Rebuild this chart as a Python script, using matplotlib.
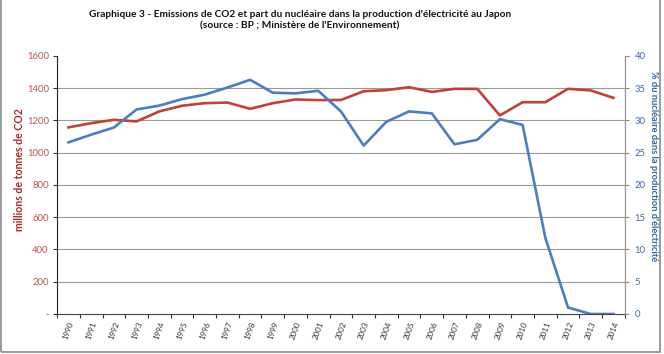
import matplotlib
matplotlib.use("Agg")
import matplotlib.pyplot as plt
import numpy as np
from matplotlib.ticker import FuncFormatter
from matplotlib.patches import Rectangle

# data
years = [str(y) for y in range(1990, 2015)]
co2_mt = [1157, 1183, 1204, 1194, 1256, 1291, 1307, 1311, 1272, 1307,
          1330, 1326, 1327, 1381, 1388, 1406, 1377, 1396, 1396, 1231,
          1313, 1313, 1396, 1386, 1340]
nuclear_pct = [26.6, 27.8, 28.9, 31.7, 32.3, 33.3, 34.0, 35.1, 36.3, 34.3,
               34.2, 34.6, 31.4, 26.1, 29.8, 31.4, 31.1, 26.3, 27.0, 30.2,
               29.3, 11.8, 1.0, 0.0, 0.0]

TITLE = ("Graphique 3 - Emissions de CO2 et part du nucléaire dans la production d'électricité au Japon\n"
         "(source : BP ; Ministère de l'Environnement)")

RED = "#C0403A"
BLUE = "#4A7EC0"

plt.rcParams["font.family"] = ["Lato", "DejaVu Sans"]

fig = plt.figure(figsize=(6.64, 3.54), dpi=100)
ax = fig.add_axes([0.086, 0.113, 0.855, 0.729])
ax2 = ax.twinx()

x = np.arange(len(years))
ax.plot(x, co2_mt, color=RED, lw=1.9, solid_joinstyle="round")
ax2.plot(x, nuclear_pct, color=BLUE, lw=1.9, solid_joinstyle="round")

ax.set_xlim(-0.5, len(years) - 0.5)
ax.set_ylim(0, 1600)
ax2.set_ylim(0, 40)

# left axis
ax.set_yticks(range(0, 1601, 200))
ax.yaxis.set_major_formatter(FuncFormatter(lambda v, p: "-" if v == 0 else "%d" % v))
ax.tick_params(axis="y", colors="#333333", labelcolor="#C0504D", labelsize=6.8,
               direction="out", length=3, width=0.8, pad=3)
ax.grid(axis="y", color="#9A9A9A", lw=0.8)
ax.yaxis.get_gridlines()[-1].set_visible(False)
ax.yaxis.get_gridlines()[0].set_visible(False)
ax.set_ylabel("millions de tonnes de CO2", color="#A52A2A", fontsize=7.6,
              fontweight="bold")
ax.yaxis.set_label_coords(-0.057, 0.56)

# right axis
ax2.set_yticks(range(0, 41, 5))
ax2.tick_params(axis="y", colors="#888888", labelcolor="#3F68A8", labelsize=6.8,
                direction="out", length=3, width=0.8, pad=4)
ax2.set_ylabel("% du nucléaire dans la production d'électricité", color="#2F5FA8",
               fontsize=6.7, fontweight="bold", rotation=270)
ax2.yaxis.set_label_coords(1.059, 0.575)

# x axis: ticks between categories, labels at centres
ax.set_xticks(np.arange(-0.5, len(years)))
ax.set_xticklabels([])
ax.set_xticks(x, minor=True)
ax.set_xticklabels(years, minor=True, rotation=70, ha="right", rotation_mode="anchor",
                   fontsize=5.8, color="#333333")
ax.tick_params(axis="x", which="major", direction="out", length=3, width=0.8, colors="#333333")
ax.tick_params(axis="x", which="minor", length=0, pad=5)

for a in (ax, ax2):
    a.spines["top"].set_visible(False)
ax.spines["left"].set_color("#222222")
ax.spines["bottom"].set_color("#444444")
ax2.spines["right"].set_color("#9A9A9A")
ax2.spines["left"].set_visible(False)
ax2.spines["bottom"].set_visible(False)
ax.set_zorder(1)
ax.patch.set_visible(False)
ax2.set_zorder(2)

fig.text(0.452, 0.972, TITLE, ha="center", va="top", fontsize=7.3,
         fontweight="bold", linespacing=1.35, color="#111111")

fig.patches.append(Rectangle((0.002, 0.006), 0.992, 1.2, transform=fig.transFigure,
                             fill=False, edgecolor="#8A8A8A", lw=1.2))

fig.savefig("out.png", dpi=100)
